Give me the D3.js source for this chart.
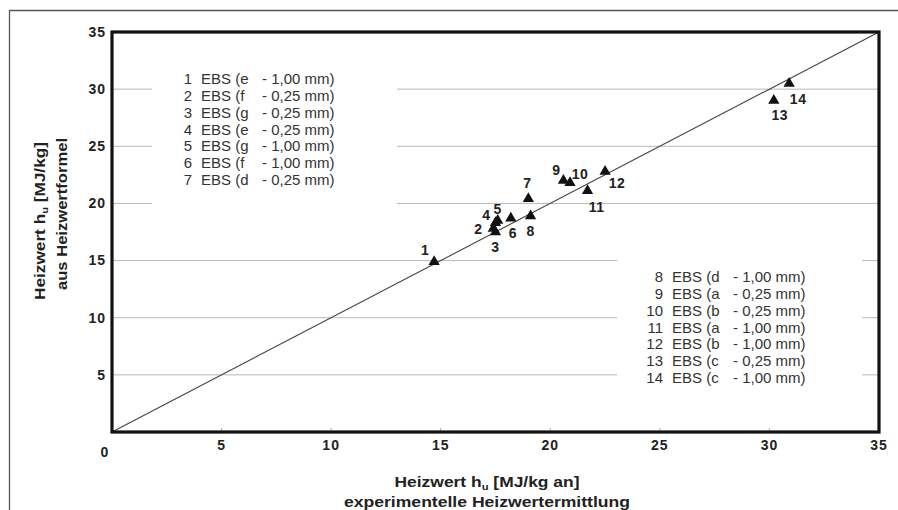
<!DOCTYPE html>
<html><head><meta charset="utf-8">
<script src="https://cdn.jsdelivr.net/npm/d3@7"></script>
<style>body{margin:0;background:#fff}text{font-family:"Liberation Sans",Arial,sans-serif}</style>
</head><body>
<svg id="c" width="898" height="510"></svg>
<script>
// ---- data ----
const xTicks = [0, 5, 10, 15, 20, 25, 30, 35];
const yTicks = [5, 10, 15, 20, 25, 30, 35];
const pointIds = [1, 2, 3, 4, 5, 6, 7, 8, 9, 10, 11, 12, 13, 14];
const xExperimental = [14.7, 17.4, 17.5, 17.5, 17.6, 18.2, 19.0, 19.1, 20.6, 20.9, 21.7, 22.5, 30.2, 30.9];
const yFormula = [14.9, 17.8, 17.5, 18.3, 18.5, 18.7, 20.4, 18.9, 22.0, 21.8, 21.1, 22.8, 29.0, 30.5];
const legendSample = ["e", "f", "g", "e", "g", "f", "d", "d", "a", "b", "a", "b", "c", "c"];
const legendSize = ["1,00", "0,25", "0,25", "0,25", "1,00", "1,00", "0,25", "1,00", "0,25", "0,25", "1,00", "1,00", "0,25", "1,00"];
const identityLine = [0, 35];

// ---- layout ----
const labelOffsets = [[-9,-12],[-15,1],[0,15],[-9,-8],[0,-11],[2,15],[-1,-16],[0,15],[-7,-10],[10,-9],[9,16],[12,12],[6,15],[9,16]];

const svg = d3.select("#c");
const x = d3.scaleLinear().domain([0, 35]).range([112, 879]);
const y = d3.scaleLinear().domain([0, 35]).range([432, 32]);

// outer frame
svg.append("path").attr("d", "M9.5,510 L9.5,10.5 L898,10.5").attr("fill", "none").attr("stroke", "#555").attr("stroke-width", 1.3);

// gridlines
svg.append("g").selectAll("line").data(yTicks.filter(d => d < 35)).join("line")
  .attr("x1", x(0)).attr("x2", x(35)).attr("y1", d => y(d)).attr("y2", d => y(d))
  .attr("stroke", "#b8b8b8").attr("stroke-width", 1);

// x small ticks
svg.append("g").selectAll("line").data(xTicks.filter(d => d > 0 && d < 35)).join("line")
  .attr("x1", d => x(d)).attr("x2", d => x(d)).attr("y1", y(0)).attr("y2", y(0) - 4)
  .attr("stroke", "#aaa").attr("stroke-width", 1);

// legend backgrounds
svg.append("rect").attr("x", 152).attr("y", 55).attr("width", 245).attr("height", 175).attr("fill", "#fff");
svg.append("rect").attr("x", 617).attr("y", 240).attr("width", 245).attr("height", 160).attr("fill", "#fff");

// identity line
svg.append("line").attr("x1", x(identityLine[0])).attr("y1", y(identityLine[0]))
  .attr("x2", x(identityLine[1])).attr("y2", y(identityLine[1]))
  .attr("stroke", "#444").attr("stroke-width", 1.1);

// plot frame
svg.append("rect").attr("x", x(0)).attr("y", y(35)).attr("width", x(35) - x(0)).attr("height", y(0) - y(35))
  .attr("fill", "none").attr("stroke", "#111").attr("stroke-width", 3.2);

// y tick labels
svg.append("g").selectAll("text").data(yTicks).join("text")
  .attr("x", 106).attr("y", d => y(d)).attr("dy", "0.35em").attr("text-anchor", "end")
  .attr("font-size", 14).attr("font-weight", "bold").attr("letter-spacing", 1).attr("fill", "#222")
  .text(d => d);

// x tick labels
svg.append("g").selectAll("text").data(xTicks).join("text")
  .attr("x", d => d === 0 ? x(d) - 7 : x(d)).attr("y", d => d === 0 ? 452 : 445).attr("dy", "0.35em")
  .attr("text-anchor", "middle")
  .attr("font-size", 14).attr("font-weight", "bold").attr("letter-spacing", 1).attr("fill", "#222")
  .text(d => d);

// points
const tri = d3.symbol().type(d3.symbolTriangle).size(55);
svg.append("g").selectAll("path").data(pointIds).join("path")
  .attr("d", tri)
  .attr("transform", (d, i) => `translate(${x(xExperimental[i])},${y(yFormula[i])})`)
  .attr("fill", "#111");

svg.append("g").selectAll("text").data(pointIds).join("text")
  .attr("x", (d, i) => x(xExperimental[i]) + labelOffsets[i][0])
  .attr("y", (d, i) => y(yFormula[i]) + labelOffsets[i][1])
  .attr("dy", "0.35em").attr("text-anchor", "middle")
  .attr("font-size", 14).attr("font-weight", "bold").attr("letter-spacing", 0.5).attr("fill", "#222")
  .text(d => d);

// legends
function legend(ids, ebsX, y0) {
  const g = svg.append("g").attr("font-size", 15).attr("fill", "#333");
  ids.forEach((id, k) => {
    const i = id - 1;
    const yy = y0 + k * 16.8;
    g.append("text").attr("x", ebsX - 9).attr("y", yy).attr("dy", "0.35em").attr("text-anchor", "end").text(id);
    g.append("text").attr("x", ebsX).attr("y", yy).attr("dy", "0.35em").text("EBS (" + legendSample[i]);
    g.append("text").attr("x", ebsX + 61).attr("y", yy).attr("dy", "0.35em").text("- " + legendSize[i] + " mm)");
  });
}
legend(pointIds.slice(0, 7), 201, 79);
legend(pointIds.slice(7), 672, 277);

// axis titles
const yt = svg.append("g").attr("font-weight", "bold").attr("font-size", 14).attr("fill", "#222");
const t1 = yt.append("text").attr("transform", "translate(40,221) rotate(-90)").attr("text-anchor", "middle")
  .attr("dy", "0.35em").attr("textLength", 158).attr("lengthAdjust", "spacingAndGlyphs");
t1.append("tspan").text("Heizwert h");
t1.append("tspan").attr("font-size", 9).attr("dy", "3").text("u");
t1.append("tspan").attr("dy", "-3").text(" [MJ/kg]");
yt.append("text").attr("transform", "translate(62,214) rotate(-90)").attr("text-anchor", "middle")
  .attr("dy", "0.35em").attr("textLength", 152).attr("lengthAdjust", "spacingAndGlyphs").text("aus Heizwertformel");

const t2 = yt.append("text").attr("x", 487).attr("y", 482).attr("text-anchor", "middle")
  .attr("dy", "0.35em").attr("textLength", 185).attr("lengthAdjust", "spacingAndGlyphs");
t2.append("tspan").text("Heizwert h");
t2.append("tspan").attr("font-size", 9).attr("dy", "3").text("u");
t2.append("tspan").attr("dy", "-3").text(" [MJ/kg an]");
yt.append("text").attr("x", 487).attr("y", 502).attr("text-anchor", "middle")
  .attr("dy", "0.35em").attr("textLength", 286).attr("lengthAdjust", "spacingAndGlyphs").text("experimentelle Heizwertermittlung");
</script>
</body></html>
